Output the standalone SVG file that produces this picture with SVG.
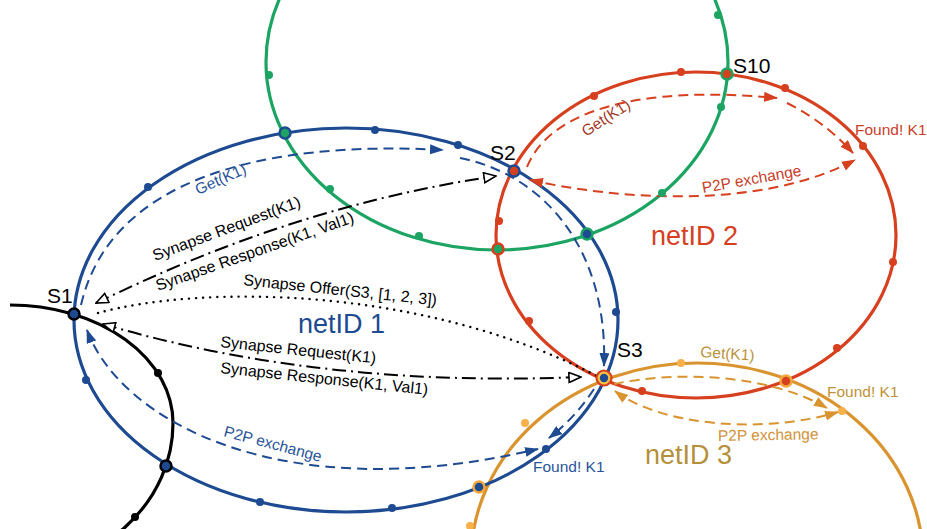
<svg xmlns="http://www.w3.org/2000/svg" width="927" height="529" viewBox="0 0 927 529">
<style>
.ring{fill:none;stroke-width:3.2}
.dash{fill:none;stroke-width:2;stroke-dasharray:10 6}
.dd{fill:none;stroke:#000;stroke-width:2;stroke-dasharray:14 5 2 5}
.dot{fill:none;stroke:#000;stroke-width:2.4;stroke-dasharray:0.1 7;stroke-linecap:round}
text{font-family:"Liberation Sans",Arial,sans-serif}
.lb{font-size:15.5px}
.sy{font-size:16px;fill:#000}
.sn{font-size:21px;fill:#000}
.net{font-size:27px}
.nd{stroke-width:2.5}
</style>
<defs>
<marker id="ab" viewBox="0 0 14 10" refX="13" refY="5" markerWidth="14" markerHeight="10" markerUnits="userSpaceOnUse" orient="auto-start-reverse"><path d="M0,0 L14,5 L0,10 z" fill="#1d4a91"/></marker>
<marker id="ar" viewBox="0 0 14 10" refX="13" refY="5" markerWidth="14" markerHeight="10" markerUnits="userSpaceOnUse" orient="auto-start-reverse"><path d="M0,0 L14,5 L0,10 z" fill="#d6401f"/></marker>
<marker id="ao" viewBox="0 0 14 10" refX="13" refY="5" markerWidth="14" markerHeight="10" markerUnits="userSpaceOnUse" orient="auto-start-reverse"><path d="M0,0 L14,5 L0,10 z" fill="#d9932f"/></marker>
<marker id="aw" viewBox="-1 -1 14 12" refX="12" refY="5" markerWidth="14" markerHeight="12" markerUnits="userSpaceOnUse" orient="auto-start-reverse"><path d="M0,0 L12,5 L0,10 z" fill="#fff" stroke="#000" stroke-width="1.6"/></marker>
</defs>
<rect width="927" height="529" fill="#fff"/>

<g id="rings">
<ellipse class="ring" cx="697" cy="560" rx="226" ry="197" stroke="#d9932f"/>
<ellipse class="ring" cx="497" cy="62" rx="231" ry="188" stroke="#1ba462"/>
<ellipse class="ring" cx="696" cy="235" rx="200" ry="163" stroke="#d6401f"/>
<ellipse class="ring" cx="346" cy="320" rx="272" ry="192" stroke="#1d4a91" stroke-width="3.5"/>
<path class="ring" d="M10,305 A163,118 0 0 1 173,423 A163,147 0 0 1 10,570" stroke="#000" stroke-width="3.4"/>
</g>

<g id="connectors">
<path class="dash" stroke="#1d4a91" d="M81,305 C110,180 260,140 443,150" marker-end="url(#ab)"/>
<path class="dash" stroke="#1d4a91" d="M460,158 C545,175 608,250 604,366" marker-end="url(#ab)"/>
<path class="dash" stroke="#1d4a91" d="M594,389 Q575,418 549,438" marker-end="url(#ab)"/>
<path class="dash" stroke="#1d4a91" d="M87,330 C120,420 280,510 538,449" marker-start="url(#ab)" marker-end="url(#ab)"/>
<path class="dd" d="M96,303 C160,273 300,205 496,176" marker-start="url(#aw)" marker-end="url(#aw)"/>
<path class="dot" d="M98,313 C200,285 420,285 597,376"/>
<path class="dd" d="M103,324 Q320,388 581,377" marker-start="url(#aw)" marker-end="url(#aw)"/>
<path class="dash" stroke="#d6401f" d="M527,167 C550,110 640,85 777,98" marker-end="url(#ar)"/>
<path class="dash" stroke="#d6401f" d="M787,103 Q825,122 853,153" marker-end="url(#ar)"/>
<path class="dash" stroke="#d6401f" d="M530,180 C620,200 760,210 855,160" marker-start="url(#ar)" marker-end="url(#ar)"/>
<path class="dash" stroke="#d9932f" d="M614,384 C680,370 770,375 827,408" marker-end="url(#ao)"/>
<path class="dash" stroke="#d9932f" d="M615,391 C660,425 760,435 838,412" marker-start="url(#ao)" marker-end="url(#ao)"/>
</g>

<g id="dots">
<g fill="#1d4a91">
<circle cx="148" cy="187" r="4"/><circle cx="375" cy="130" r="4"/><circle cx="458" cy="145" r="4"/>
<circle cx="616" cy="312" r="4"/><circle cx="546" cy="449" r="4"/><circle cx="392" cy="508" r="4"/>
<circle cx="260" cy="502" r="4"/><circle cx="86" cy="380" r="4"/>
</g>
<g fill="#1ba462">
<circle cx="269" cy="75" r="4"/><circle cx="330" cy="189" r="4"/><circle cx="419" cy="236" r="4"/>
<circle cx="662" cy="193" r="4"/><circle cx="721" cy="107" r="4"/><circle cx="718" cy="15" r="4"/>
</g>
<g fill="#d6401f">
<circle cx="499" cy="221" r="4"/><circle cx="529" cy="321" r="4"/><circle cx="594" cy="96" r="4"/>
<circle cx="681" cy="72" r="4"/><circle cx="785" cy="88" r="4"/><circle cx="863" cy="146" r="4"/>
<circle cx="893" cy="262" r="4"/><circle cx="837" cy="348" r="4"/><circle cx="642" cy="391" r="4"/>
</g>
<g fill="#f7b04a">
<circle cx="681" cy="363" r="4"/><circle cx="842" cy="411" r="4"/><circle cx="525" cy="423" r="4"/><circle cx="470" cy="526" r="4"/>
</g>
<g fill="#000">
<circle cx="158" cy="373" r="4"/><circle cx="135" cy="517" r="4"/>
</g>
</g>

<g id="node-S1"><circle class="nd" cx="74" cy="314" r="5.5" fill="#1d4a91" stroke="#000"/><text class="sn" x="47" y="303">S1</text></g>
<g id="node-S2"><circle class="nd" cx="514" cy="171" r="5.5" fill="#d6401f" stroke="#1d4a91"/><text class="sn" x="490" y="160">S2</text></g>
<g id="node-S3"><circle cx="604" cy="378" r="7.5" fill="#f6c445" stroke="#d6401f" stroke-width="2.2"/><circle cx="604" cy="378" r="4.2" fill="#1d4a91"/><text class="sn" x="617" y="357">S3</text></g>
<g id="node-S10"><circle class="nd" cx="727" cy="74" r="5.5" fill="#d6401f" stroke="#1ba462"/><text class="sn" x="733" y="73">S10</text></g>
<g id="node-x1"><circle class="nd" cx="166" cy="466" r="5.5" fill="#1d4a91" stroke="#000"/></g>
<g id="node-x2"><circle class="nd" cx="285" cy="133" r="5.5" fill="#1ba462" stroke="#1d4a91"/></g>
<g id="node-x3"><circle class="nd" cx="498" cy="249" r="5.5" fill="#1ba462" stroke="#d6401f"/></g>
<g id="node-x4"><circle class="nd" cx="587" cy="234" r="5.5" fill="#1d4a91" stroke="#1ba462"/></g>
<g id="node-x5"><circle class="nd" cx="786" cy="381" r="5.5" fill="#d6401f" stroke="#f2a83a"/></g>
<g id="node-x6"><circle class="nd" cx="479" cy="487" r="5.5" fill="#1d4a91" stroke="#f2a83a"/></g>

<g id="labels">
<text class="net" x="298" y="333" fill="#1d4a91">netID 1</text>
<text class="net" x="651" y="245" fill="#d6401f">netID 2</text>
<text class="net" x="645" y="464" fill="#b5903a">netID 3</text>
<text class="lb" x="198" y="195" fill="#2b559a" transform="rotate(-24 198 195)">Get(K1)</text>
<text class="lb" x="223" y="436" fill="#2b559a" transform="rotate(15 223 436)">P2P exchange</text>
<text class="lb" x="533" y="472" fill="#2b559a">Found! K1</text>
<text class="sy" x="155" y="261" transform="rotate(-20.5 155 261)">Synapse Request(K1)</text>
<text class="sy" x="158" y="291" transform="rotate(-19.3 158 291)">Synapse Response(K1, Val1)</text>
<text class="sy" x="243" y="285" transform="rotate(6 243 285)">Synapse Offer(S3, [1, 2, 3])</text>
<text class="sy" x="220" y="347" transform="rotate(6 220 347)">Synapse Request(K1)</text>
<text class="sy" x="220" y="373" transform="rotate(6 220 373)">Synapse Response(K1, Val1)</text>
<text class="lb" x="586" y="137" fill="#a23a2a" transform="rotate(-33 586 137)">Get(K1)</text>
<text class="lb" x="703" y="193" fill="#c8402a" transform="rotate(-10 703 193)">P2P exchange</text>
<text class="lb" x="855" y="135" fill="#c8402a">Found! K1</text>
<text class="lb" x="700" y="357" fill="#b8913a" transform="rotate(4 700 357)">Get(K1)</text>
<text class="lb" x="718" y="441" fill="#d0923a" transform="rotate(-1 718 441)">P2P exchange</text>
<text class="lb" x="827" y="397" fill="#c0913a">Found! K1</text>
</g>
</svg>
